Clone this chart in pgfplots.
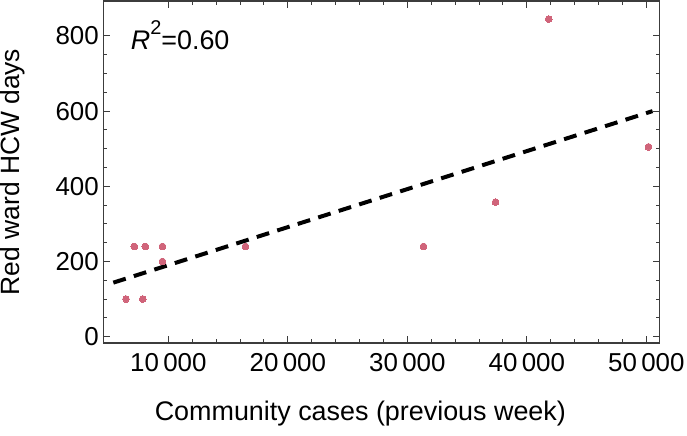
\documentclass[border=0pt]{standalone}
\usepackage{fontspec}
\setmainfont{Liberation Sans}
\usepackage{pgfplots}
\pgfplotsset{compat=1.18}
\definecolor{ptcol}{RGB}{208,100,122}
\definecolor{framecol}{RGB}{60,60,60}
\begin{document}
\begin{tikzpicture}
\begin{axis}[
  scale only axis,
  width=556.4bp, height=342bp,
  xmin=4550, xmax=51120, ymin=-17, ymax=893,
  xtick={10000,20000,30000,40000,50000},
  ytick={0,200,400,600,800},
  minor x tick num=4, minor y tick num=3,
  scaled ticks=false,
  /pgf/number format/assume math mode=true,
  /pgf/number format/1000 sep={\,},
  tick align=inside,
  major tick length=7bp, minor tick length=4bp,
  every tick/.style={framecol, line width=1bp},
  axis line style={framecol, line width=1.5bp},
  tick label style={font=\fontsize{26}{30}\selectfont, black},
  xticklabel style={yshift=-6.5bp},
  yticklabel style={xshift=-1bp},
  every axis x label/.style={at={(rel axis cs:0.462,0)}, yshift=-77bp, anchor=base, font=\fontsize{27}{32}\selectfont},
  every axis y label/.style={at={(rel axis cs:0,0.5)}, xshift=-83.5bp, rotate=90, anchor=base, font=\fontsize{26.5}{32}\selectfont},
  xlabel={Community cases (previous week)},
  ylabel={Red ward HCW days},
  clip=false,
]
\addplot[only marks, color=ptcol, mark=*, mark size=3.4bp, mark options={draw=ptcol, fill=ptcol, line width=0pt}] coordinates {
  (6450,100) (7850,100) (7150,240) (8070,240) (9500,240) (9500,200)
  (16450,240) (31350,240) (37380,358) (41830,845) (50180,505)
};
\addplot[black, line width=4bp, dash pattern=on 13bp off 8.5bp] coordinates {
  (5390,143.6) (50520,600)
};
\node[anchor=base west, font=\fontsize{27}{32}\selectfont, inner sep=0pt] at (rel axis cs:0.0492,0.8588) {\textit{R}\raisebox{0.55em}{\fontsize{20}{24}\selectfont 2}=0.60};
\end{axis}
\pgfresetboundingbox
\path[use as bounding box] ([xshift=-103.3bp,yshift=-93bp]current axis.south west) rectangle ++(687bp,436bp);
\end{tikzpicture}
\end{document}
